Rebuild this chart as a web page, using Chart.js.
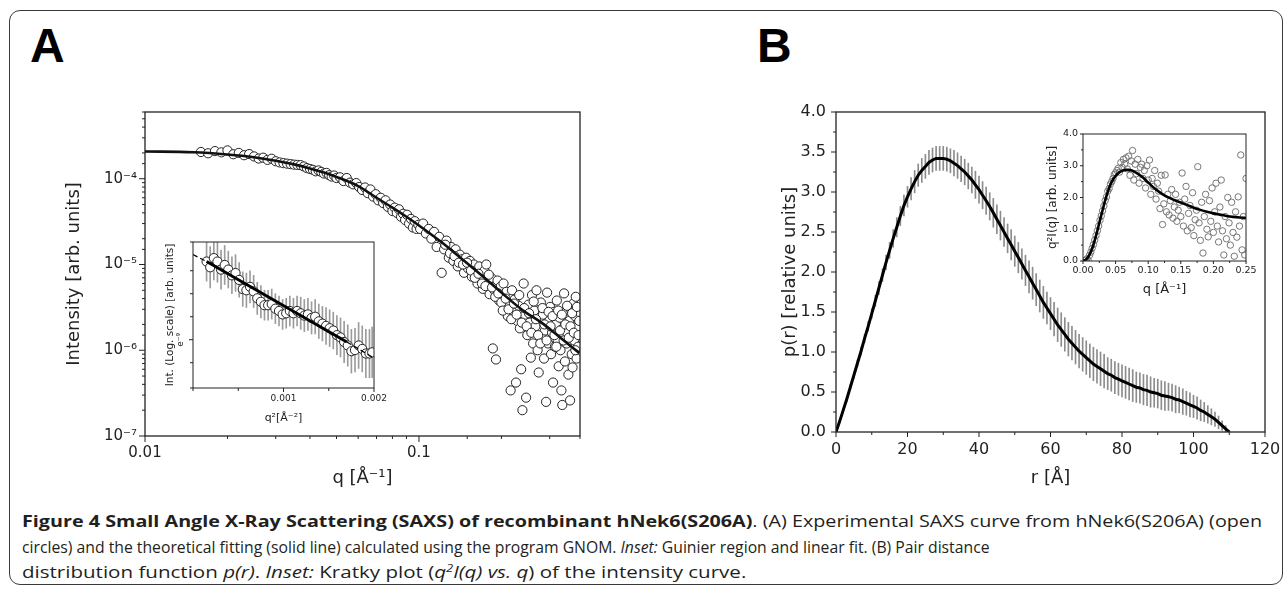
<!DOCTYPE html>
<html>
<head>
<meta charset="utf-8">
<script src="https://cdn.jsdelivr.net/npm/chart.js@4.4.1/dist/chart.umd.min.js"></script>
<style>
html, body { margin: 0; padding: 0; background: #fff; }
body { width: 1285px; height: 592px; position: relative; overflow: hidden; }
#frame { position: absolute; left: 9px; top: 10px; width: 1274px; height: 575px; border: 1.5px solid #3a3a3a; border-radius: 11px; box-sizing: border-box; }
.panel { position: absolute; font: bold 48px "Liberation Sans", Arial, sans-serif; line-height: 48px; color: #000; }
canvas { position: absolute; }
.cap { position: absolute; left: 22px; white-space: nowrap; font: 16px "Open Sans", sans-serif; line-height: 20px; color: #231f20; transform-origin: 0 50%; }
</style>
</head>
<body>
<div id="frame"></div>
<div class="panel" style="left:30px;top:22px">A</div>
<div class="panel" style="left:757px;top:22px">B</div>

<canvas id="cA" width="570" height="400" style="left:30px;top:90px"></canvas>
<canvas id="cAin" width="240" height="200" style="left:155px;top:232px"></canvas>
<canvas id="cB" width="525" height="400" style="left:760px;top:95px"></canvas>
<canvas id="cBin" width="225" height="185" style="left:1040px;top:122px"></canvas>

<div class="cap" id="c1" style="top:511px"><b>Figure 4 Small Angle X-Ray Scattering (SAXS) of recombinant hNek6(S206A)</b>. (A) Experimental SAXS curve from hNek6(S206A) (open</div>
<div class="cap" id="c2" style="top:537px">circles) and the theoretical fitting (solid line) calculated using the program GNOM. <i>Inset:</i> Guinier region and linear fit. (B) Pair distance</div>
<div class="cap" id="c3" style="top:562px">distribution function <i>p(r)</i>. <i>Inset:</i> Kratky plot (<i>q<sup style="font-size:10px;line-height:0">2</sup>I(q) vs. q</i>) of the intensity curve.</div>

<script>
// ---- (A) SAXS curve: experimental points [q, I] and GNOM fit ----
const expPoints = [
  [0.0160,2.05e-4],[0.0170,1.98e-4],[0.0180,2.10e-4],[0.0190,2.03e-4],[0.0200,2.14e-4],[0.0210,1.93e-4],[0.0220,2.00e-4],[0.0230,1.88e-4],[0.0240,1.94e-4],[0.0250,1.82e-4],
  [0.0260,1.72e-4],[0.0270,1.76e-4],[0.0280,1.66e-4],[0.0290,1.71e-4],[0.0300,1.60e-4],[0.0310,1.55e-4],[0.0320,1.52e-4],[0.0330,1.50e-4],[0.0340,1.48e-4],[0.0350,1.46e-4],
  [0.0360,1.45e-4],[0.0370,1.44e-4],[0.0380,1.39e-4],[0.0390,1.33e-4],[0.0400,1.30e-4],[0.0410,1.27e-4],[0.0420,1.22e-4],[0.0430,1.25e-4],[0.0440,1.20e-4],[0.0450,1.15e-4],
  [0.0460,1.17e-4],[0.0470,1.10e-4],[0.0480,1.06e-4],[0.0490,1.09e-4],[0.0500,1.02e-4],
  [0.0515,1.04e-4],[0.0530,9.4e-5],[0.0545,1.02e-4],[0.0560,9.0e-5],[0.0575,8.6e-5],[0.0590,8.9e-5],[0.0605,8.0e-5],[0.0620,7.4e-5],[0.0635,7.9e-5],[0.0650,6.8e-5],
  [0.0665,7.5e-5],[0.0680,6.2e-5],[0.0695,6.6e-5],[0.0710,5.6e-5],[0.0725,6.0e-5],[0.0740,5.2e-5],[0.0755,5.6e-5],[0.0770,4.7e-5],[0.0785,5.0e-5],[0.0800,4.2e-5],
  [0.0815,4.6e-5],[0.0830,4.0e-5],[0.0845,4.4e-5],[0.0860,3.6e-5],[0.0875,3.9e-5],[0.0890,3.3e-5],[0.0905,3.8e-5],[0.0920,3.0e-5],[0.0935,3.4e-5],[0.0950,2.7e-5],
  [0.0965,3.2e-5],[0.0980,2.6e-5],[0.0995,2.9e-5],
  [0.1010,2.6e-5],[0.1035,3.0e-5],[0.1060,2.3e-5],[0.1085,2.6e-5],[0.1110,2.0e-5],[0.1135,2.4e-5],[0.1160,1.6e-5],[0.1185,2.1e-5],[0.1210,8.0e-6],[0.1235,1.5e-5],
  [0.1260,1.9e-5],[0.1285,1.2e-5],[0.1310,1.6e-5],[0.1335,1.1e-5],[0.1360,1.5e-5],[0.1385,9.5e-6],[0.1410,1.3e-5],[0.1435,1.15e-5],[0.1460,8.0e-6],[0.1485,1.2e-5],
  [0.1510,9.0e-6],[0.1535,1.1e-5],[0.1560,7.2e-6],[0.1585,1.0e-5],[0.1610,8.0e-6],[0.1635,6.0e-6],[0.1660,9.5e-6],[0.1685,6.8e-6],[0.1710,5.2e-6],[0.1735,8.5e-6],
  [0.1760,1.0e-5],[0.1785,6.0e-6],[0.1810,4.5e-6],[0.1835,7.0e-6],[0.1860,1.05e-6],[0.1885,5.0e-6],[0.1910,7.8e-7],[0.1935,6.5e-6],[0.1960,3.8e-6],[0.1985,5.5e-6],
  [0.2010,4.2e-6],[0.2035,6.0e-6],[0.2060,3.2e-6],[0.2085,4.8e-6],[0.2110,2.5e-6],[0.2135,3.5e-6],[0.2160,3.4e-7],[0.2185,5.0e-6],[0.2210,2.8e-6],[0.2235,3.9e-6],
  [0.2260,4.2e-7],[0.2285,2.2e-6],[0.2310,3.3e-6],[0.2335,1.8e-6],[0.2360,6.0e-7],[0.2385,2.0e-7],[0.2410,6.0e-6],[0.2435,2.6e-6],[0.2460,2.8e-7],[0.2485,1.5e-6],
  [0.2510,3.4e-6],[0.2535,2.1e-6],[0.2560,8.2e-7],[0.2585,4.4e-6],[0.2610,1.2e-6],[0.2635,2.9e-6],[0.2660,1.9e-6],[0.2685,5.0e-6],[0.2710,1.0e-6],[0.2735,5.5e-7],
  [0.2760,2.4e-6],[0.2785,3.6e-6],[0.2810,1.4e-6],[0.2835,2.6e-6],[0.2860,8.0e-7],[0.2885,1.7e-6],[0.2910,2.5e-7],[0.2935,4.7e-6],[0.2960,1.2e-6],[0.2985,2.2e-6],
  [0.3010,3.2e-6],[0.3035,9.0e-7],[0.3060,1.6e-6],[0.3085,4.2e-7],[0.3110,2.8e-6],[0.3135,1.1e-6],[0.3160,2.0e-6],[0.3185,3.8e-6],[0.3210,1.3e-6],[0.3235,6.5e-7],
  [0.3260,2.4e-6],[0.3285,1.0e-6],[0.3310,3.4e-7],[0.3335,2.3e-7],[0.3360,1.8e-6],[0.3385,4.6e-6],[0.3410,7.4e-7],[0.3435,2.9e-6],[0.3460,1.2e-6],[0.3485,1.6e-6],
  [0.3510,5.2e-7],[0.3535,2.2e-6],[0.3560,2.6e-7],[0.3585,3.0e-6],[0.3610,9.0e-7],[0.3635,6.3e-7],[0.3660,3.5e-6],[0.3685,1.3e-6],[0.3710,2.5e-6],[0.3735,4.2e-6],
  [0.3760,8.0e-7],[0.3785,1.9e-6],[0.3810,1.1e-6],[0.3835,2.8e-6],
  [0.1248,1.7e-5],[0.1298,1.35e-5],[0.1348,1.25e-5],[0.1398,1.05e-5],[0.1448,1.0e-5],[0.1498,1.05e-5],[0.1548,8.5e-6],[0.1598,7.0e-6],
  [0.1648,7.8e-6],[0.1698,6.0e-6],[0.1748,5.6e-6],[0.1798,7.6e-6],[0.1848,5.4e-6],[0.1898,4.2e-6],[0.1948,4.6e-6],[0.1998,3.6e-6],
  [0.2022,2.9e-6],[0.2072,4.0e-6],[0.2122,3.0e-6],[0.2172,2.3e-6],[0.2222,3.5e-6],[0.2272,2.6e-6],[0.2322,4.4e-6],[0.2372,2.1e-6],
  [0.2422,3.1e-6],[0.2472,1.9e-6],[0.2522,2.7e-6],[0.2572,1.6e-6],[0.2622,3.7e-6],[0.2672,2.3e-6],[0.2722,1.5e-6],[0.2772,1.2e-6],
  [0.2822,3.1e-6],[0.2872,2.0e-6],[0.2922,1.3e-6],[0.2972,2.8e-6],[0.3022,1.9e-6],[0.3072,2.5e-6],[0.3122,1.5e-6],[0.3172,1.1e-6],
  [0.3222,2.9e-6],[0.3272,1.7e-6],[0.3322,2.6e-6],[0.3372,1.3e-6],[0.3422,2.0e-6],[0.3472,3.3e-6],[0.3522,1.4e-6],[0.3572,1.9e-6],
  [0.3622,2.7e-6],[0.3672,1.6e-6],[0.3722,1.0e-6],[0.3772,3.2e-6],[0.3822,1.5e-6],[0.3845,2.2e-6]
];
const fitQ = [0.010, 0.015, 0.020, 0.025, 0.030, 0.035, 0.040, 0.045, 0.050, 0.060, 0.070, 0.080, 0.090, 0.100, 0.120, 0.140, 0.170, 0.200, 0.240, 0.280, 0.320, 0.360, 0.385];
const fitI = [2.08e-4, 2.04e-4, 1.92e-4, 1.78e-4, 1.62e-4, 1.47e-4, 1.32e-4, 1.18e-4, 1.05e-4, 8.2e-5, 6.0e-5, 4.6e-5, 3.6e-5, 2.85e-5, 1.85e-5, 1.24e-5, 7.4e-6, 4.7e-6, 2.9e-6, 2.1e-6, 1.5e-6, 1.1e-6, 9.3e-7];

// ---- (A) inset: Guinier region, ln I vs q^2 ----
const guinierQ2 = [0.00015,0.00019,0.00023,0.00027,0.00031,0.00035,0.00039,0.00043,0.00047,0.00051,0.00055,0.00059,0.00063,0.00067,0.00071,0.00075,
  0.00079,0.00083,0.00087,0.00091,0.00095,0.00099,0.00103,0.00107,0.00111,0.00115,0.00119,0.00123,0.00127,0.00131,0.00135,0.00139,
  0.00143,0.00147,0.00151,0.00155,0.00159,0.00163,0.00167,0.00171,0.00175,0.00179,0.00183,0.00187,0.00191,0.00195,0.00198];
const guinierLnI = [-8.32,-8.37,-8.29,-8.32,-8.39,-8.35,-8.39,-8.44,-8.42,-8.48,-8.56,-8.57,-8.54,-8.58,-8.64,-8.67,
  -8.70,-8.70,-8.69,-8.73,-8.75,-8.78,-8.77,-8.75,-8.77,-8.75,-8.77,-8.79,-8.78,-8.81,-8.80,-8.84,
  -8.86,-8.88,-8.90,-8.92,-8.96,-8.98,-9.02,-9.05,-9.10,-9.09,-9.05,-9.08,-9.12,-9.12,-9.11];
const guinierErr = [0.17,0.18,0.19,0.18,0.17,0.17,0.16,0.16,0.16,0.15,0.15,0.15,0.14,0.14,0.14,0.14,
  0.13,0.13,0.13,0.13,0.13,0.13,0.13,0.13,0.13,0.13,0.14,0.14,0.14,0.14,0.15,0.15,
  0.15,0.16,0.16,0.16,0.17,0.17,0.18,0.18,0.19,0.19,0.20,0.20,0.21,0.21,0.22];
const guinierFitQ2 = [0.00015, 0.0017];
const guinierFitLnI = [-8.32, -9.02];
const guinierExtQ2 = [0.0, 0.00015, null, 0.0017, 0.002];
const guinierExtLnI = [-8.26, -8.32, null, -9.02, -9.16];

// ---- (B) pair distance distribution p(r), one value per Å ----
const rGrid = Array.from({ length: 111 }, (_, i) => i);
const pr = [
  0.00,0.13,0.27,0.41,0.56,0.71,0.86,1.01,1.17,1.32,
  1.48,1.64,1.80,1.96,2.12,2.27,2.42,2.56,2.70,2.83,
  2.94,3.04,3.13,3.21,3.27,3.32,3.37,3.40,3.42,3.42,
  3.42,3.41,3.39,3.36,3.33,3.29,3.25,3.20,3.15,3.09,
  3.03,2.96,2.89,2.82,2.74,2.66,2.58,2.50,2.42,2.34,
  2.26,2.18,2.10,2.02,1.94,1.86,1.78,1.70,1.62,1.55,
  1.48,1.41,1.34,1.28,1.22,1.16,1.11,1.06,1.01,0.97,
  0.93,0.89,0.85,0.82,0.79,0.76,0.73,0.71,0.68,0.66,
  0.64,0.62,0.60,0.58,0.56,0.55,0.53,0.52,0.50,0.49,
  0.48,0.46,0.45,0.44,0.43,0.41,0.40,0.38,0.36,0.34,
  0.32,0.30,0.27,0.25,0.22,0.19,0.16,0.12,0.08,0.04,0.00
];
const prErr = [
  0.01,0.02,0.02,0.03,0.03,0.04,0.04,0.05,0.05,0.06,0.06,
  0.07,0.08,0.08,0.09,0.10,0.11,0.12,0.12,0.13,0.13,
  0.14,0.14,0.14,0.15,0.15,0.15,0.15,0.15,0.15,0.15,
  0.15,0.15,0.16,0.16,0.16,0.16,0.16,0.16,0.17,0.17,
  0.17,0.17,0.17,0.18,0.18,0.18,0.18,0.18,0.19,0.19,
  0.19,0.19,0.19,0.20,0.20,0.20,0.20,0.20,0.20,0.20,
  0.21,0.21,0.21,0.21,0.21,0.21,0.21,0.21,0.21,0.21,
  0.21,0.21,0.21,0.21,0.21,0.20,0.20,0.20,0.20,0.20,
  0.20,0.20,0.20,0.19,0.19,0.19,0.19,0.19,0.18,0.18,
  0.18,0.18,0.17,0.17,0.17,0.16,0.16,0.15,0.15,0.14,
  0.14,0.13,0.12,0.11,0.10,0.09,0.08,0.06,0.04,0.02
];

// ---- (B) inset: Kratky plot q^2 I(q) ----
const kratkyPoints = [
  [0.002,0.01],[0.004,0.03],[0.006,0.07],[0.008,0.02],[0.010,0.18],[0.012,0.28],[0.014,0.40],[0.016,0.52],[0.018,0.66],[0.020,0.80],
  [0.022,0.95],[0.024,1.10],[0.026,1.28],[0.028,1.42],[0.030,1.58],[0.032,1.73],[0.034,1.90],[0.036,2.02],[0.038,2.20],[0.040,2.28],
  [0.042,2.42],[0.044,2.50],[0.046,2.60],[0.048,2.72],[0.050,2.78],[0.052,2.85],[0.054,2.92],[0.056,2.80],[0.058,3.10],[0.060,2.95],
  [0.062,3.20],[0.064,3.05],[0.066,3.25],[0.068,2.90],[0.070,3.30],[0.072,2.70],[0.074,3.15],[0.076,3.48],[0.078,2.55],[0.080,3.05],
  [0.082,2.75],[0.084,3.20],[0.086,2.45],[0.088,2.95],[0.090,3.05],[0.092,2.60],[0.094,2.85],[0.096,2.30],[0.098,3.00],[0.100,2.55],
  [0.102,3.18],[0.104,2.10],[0.106,2.60],[0.108,2.35],[0.110,2.85],[0.112,1.95],[0.114,2.45],[0.116,2.20],[0.118,1.65],[0.120,2.70],
  [0.122,1.15],[0.124,1.80],[0.126,2.71],[0.128,1.55],[0.130,2.10],[0.132,1.45],[0.134,1.90],[0.136,2.25],[0.138,1.35],[0.140,1.70],
  [0.142,2.10],[0.144,1.25],[0.146,1.60],[0.148,1.85],[0.150,1.40],[0.152,2.77],[0.154,1.10],[0.156,1.95],[0.158,2.35],[0.160,0.95],
  [0.162,1.50],[0.164,1.75],[0.166,1.05],[0.168,2.15],[0.170,0.80],[0.172,1.30],[0.174,1.60],[0.176,2.97],[0.178,1.20],[0.180,0.65],
  [0.182,1.85],[0.184,0.25],[0.186,1.40],[0.188,2.10],[0.190,1.00],[0.192,0.76],[0.194,1.90],[0.196,1.25],[0.198,2.30],[0.200,0.90],
  [0.202,1.55],[0.204,2.45],[0.206,1.10],[0.208,0.60],[0.210,1.70],[0.212,2.55],[0.214,0.95],[0.216,0.19],[0.218,1.40],[0.220,0.70],
  [0.222,2.00],[0.224,1.20],[0.226,0.50],[0.228,1.85],[0.230,0.90],[0.232,0.15],[0.234,1.55],[0.236,0.75],[0.238,2.02],[0.240,1.10],
  [0.242,3.34],[0.244,0.35],[0.246,1.40],[0.248,0.19],[0.250,2.60]
];
const kratkyFitQ = [0, 0.005, 0.01, 0.015, 0.02, 0.025, 0.03, 0.035, 0.04, 0.045, 0.05, 0.055, 0.06, 0.065, 0.07, 0.075, 0.08,
  0.09, 0.10, 0.11, 0.12, 0.13, 0.14, 0.15, 0.16, 0.17, 0.18, 0.19, 0.20, 0.21, 0.22, 0.23, 0.24, 0.25];
const kratkyFitV = [0, 0.05, 0.2, 0.45, 0.8, 1.2, 1.6, 1.98, 2.3, 2.53, 2.68, 2.78, 2.84, 2.87, 2.87, 2.85, 2.8,
  2.66, 2.47, 2.28, 2.13, 2.01, 1.92, 1.84, 1.76, 1.68, 1.61, 1.55, 1.5, 1.46, 1.42, 1.39, 1.37, 1.36];

// ---- helpers ----
Chart.defaults.font.family = '"DejaVu Sans", Verdana, sans-serif';
Chart.defaults.color = '#222';

const SUP = { '-': '⁻', '0': '⁰', '1': '¹', '2': '²', '3': '³', '4': '⁴', '5': '⁵', '6': '⁶', '7': '⁷', '8': '⁸', '9': '⁹' };
const sup = n => String(n).split('').map(c => SUP[c]).join('');
const near = (a, b) => Math.abs(a - b) < 1e-9;
const xy = (xs, ys) => xs.map((x, i) => ({ x: x, y: ys[i] }));

// box around the plot area plus outward tick marks (long for labelled ticks)
function axisBox(o) {
  return {
    id: 'axisBox',
    beforeDraw(chart) {
      if (!o.fill) return;
      const a = chart.chartArea, ctx = chart.ctx;
      ctx.save();
      ctx.fillStyle = o.fill;
      ctx.fillRect(a.left, a.top, a.width, a.height);
      ctx.restore();
    },
    afterDraw(chart) {
      const a = chart.chartArea, ctx = chart.ctx;
      const xs = chart.scales.x, ys = chart.scales.y;
      ctx.save();
      ctx.strokeStyle = '#222';
      ctx.lineWidth = o.lw;
      ctx.strokeRect(a.left, a.top, a.width, a.height);
      ctx.beginPath();
      xs.ticks.forEach(t => {
        const p = xs.getPixelForValue(t.value);
        ctx.moveTo(p, a.bottom);
        ctx.lineTo(p, a.bottom + (t.label ? o.major : o.minor));
      });
      ys.ticks.forEach(t => {
        const p = ys.getPixelForValue(t.value);
        const big = o.majorY ? o.majorY(t.value) : t.label;
        ctx.moveTo(a.left, p);
        ctx.lineTo(a.left - (big ? o.major : o.minor), p);
      });
      ctx.lineWidth = 1;
      ctx.stroke();
      if (o.extra) o.extra(chart, ctx);
      ctx.restore();
    }
  };
}

function baseOptions(pad) {
  return {
    responsive: false,
    animation: false,
    events: [],
    layout: { padding: pad },
    plugins: { legend: { display: false }, tooltip: { enabled: false } },
  };
}

function axis(extra) {
  return Object.assign({
    offset: false,
    grid: { display: false, drawTicks: true },
    border: { display: false },
  }, extra);
}

// ---- (A) main chart ----
new Chart(document.getElementById('cA'), {
  type: 'scatter',
  data: {
    datasets: [
      { type: 'line', data: xy(fitQ, fitI), borderColor: '#111', borderWidth: 2.6, pointRadius: 0, cubicInterpolationMode: 'monotone', order: 0 },
      { data: expPoints.map(p => ({ x: p[0], y: p[1] })), pointRadius: 4.6, borderWidth: 1, borderColor: '#222', backgroundColor: '#fff', order: 1 }
    ]
  },
  options: Object.assign(baseOptions({ left: 0, top: 22, right: 20, bottom: 0 }), {
    scales: {
      x: axis({
        type: 'logarithmic', min: 0.01, max: 0.387,
        grid: { display: false, drawTicks: true, tickLength: 6 },
        ticks: { autoSkip: false, maxRotation: 0, padding: 2, font: { size: 15 },
          callback: v => near(v, 0.01) ? '0.01' : (near(v, 0.1) ? '0.1' : '') },
        title: { display: true, text: 'q [Å⁻¹]', font: { size: 18 }, padding: { top: 0, bottom: 1 } },
        afterFit: s => { s.height = 54; }
      }),
      y: axis({
        type: 'logarithmic', min: 1e-7, max: 6e-4,
        grid: { display: false, drawTicks: true, tickLength: 6 },
        ticks: { autoSkip: false, padding: 2, font: { size: 15 },
          callback: v => { const e = Math.log10(v); return Math.abs(e - Math.round(e)) < 1e-6 ? '10' + sup(Math.round(e)) : ''; } },
        title: { display: true, text: 'Intensity [arb. units]', font: { size: 18 }, padding: { top: 34, bottom: 0 } },
        afterFit: s => { s.width = 115; }
      })
    }
  }),
  plugins: [axisBox({ lw: 1.3, major: 6, minor: 3 })]
});

// ---- (A) inset: Guinier plot ----
new Chart(document.getElementById('cAin'), {
  type: 'scatter',
  data: {
    datasets: [
      { type: 'line', data: xy(guinierFitQ2, guinierFitLnI), borderColor: '#000', borderWidth: 3, pointRadius: 0, order: 0 },
      { type: 'line', data: xy(guinierExtQ2, guinierExtLnI), borderColor: '#000', borderWidth: 1.3, borderDash: [5, 3], pointRadius: 0, spanGaps: false, order: 0 },
      { data: xy(guinierQ2, guinierLnI), pointRadius: 4.6, borderWidth: 1, borderColor: '#222', backgroundColor: '#fff', order: 1 },
      { type: 'bar', data: guinierQ2.map((q, i) => ({ x: q, y: [guinierLnI[i] - guinierErr[i], guinierLnI[i] + guinierErr[i]] })),
        backgroundColor: '#9c9c9c', barThickness: 1, grouped: false, order: 2 }
    ]
  },
  options: Object.assign(baseOptions({ left: 0, top: 10, right: 21, bottom: 0 }), {
    scales: {
      x: axis({
        type: 'linear', min: 0, max: 0.002,
        grid: { display: false, drawTicks: true, tickLength: 3 },
        ticks: { stepSize: 0.0005, autoSkip: false, maxRotation: 0, padding: 2, font: { size: 9 },
          callback: v => near(v, 0.001) ? '0.001' : (near(v, 0.002) ? '0.002' : '') },
        title: { display: true, text: 'q²[Å⁻²]', font: { size: 11 }, padding: { top: 0, bottom: 7.4 } },
        afterFit: s => { s.height = 44; }
      }),
      y: axis({
        type: 'linear', min: -9.42, max: -8.15,
        grid: { display: false, drawTicks: true, tickLength: 3 },
        ticks: { stepSize: 0.2, autoSkip: false, padding: 0, callback: () => '' },
        title: { display: true, text: 'Int. (Log. scale) [arb. units]', font: { size: 10.5 }, padding: { top: 8.7, bottom: 0 } },
        afterFit: s => { s.width = 38; }
      })
    }
  }),
  plugins: [axisBox({
    fill: '#fff', lw: 1, major: 4, minor: 3,
    majorY: v => near(v, -9),
    extra: (chart, ctx) => {
      // tick label e^-9, written upright along the axis as in the original
      ctx.translate(26, chart.scales.y.getPixelForValue(-9));
      ctx.rotate(-Math.PI / 2);
      ctx.font = '9px "DejaVu Sans"';
      ctx.fillStyle = '#222';
      ctx.textAlign = 'center';
      ctx.textBaseline = 'middle';
      ctx.fillText('e⁻⁹', 0, 0);
    }
  })]
});

// ---- (B) main chart: p(r) with error bars ----
new Chart(document.getElementById('cB'), {
  type: 'scatter',
  data: {
    datasets: [
      { type: 'line', data: xy(rGrid, pr), borderColor: '#000', borderWidth: 3, pointRadius: 0, order: 0 },
      { type: 'bar', data: rGrid.map((r, i) => ({ x: r, y: [pr[i] - prErr[i], pr[i] + prErr[i]] })),
        backgroundColor: '#8c8c8c', barThickness: 1, grouped: false, order: 1 }
    ]
  },
  options: Object.assign(baseOptions({ left: 0, top: 17, right: 20, bottom: 0 }), {
    scales: {
      x: axis({
        type: 'linear', min: 0, max: 120,
        grid: { display: false, drawTicks: true, tickLength: 5 },
        ticks: { stepSize: 10, autoSkip: false, maxRotation: 0, padding: 3, font: { size: 16 },
          callback: v => (Math.round(v) % 20 === 0 ? String(Math.round(v)) : '') },
        title: { display: true, text: 'r [Å]', font: { size: 18 }, padding: { top: 0, bottom: 6.2 } },
        afterFit: s => { s.height = 63; }
      }),
      y: axis({
        type: 'linear', min: 0, max: 4,
        grid: { display: false, drawTicks: true, tickLength: 5 },
        ticks: { stepSize: 0.25, autoSkip: false, padding: 5, font: { size: 16 },
          callback: v => (Math.round(v * 100) % 50 === 0 ? v.toFixed(1) : '') },
        title: { display: true, text: 'p(r) [relative units]', font: { size: 18 }, padding: { top: 19.2, bottom: 0 } },
        afterFit: s => { s.width = 76; }
      })
    }
  }),
  plugins: [axisBox({ lw: 1.3, major: 5, minor: 3 })]
});

// ---- (B) inset: Kratky plot ----
new Chart(document.getElementById('cBin'), {
  type: 'scatter',
  data: {
    datasets: [
      { type: 'line', data: xy(kratkyFitQ, kratkyFitV), borderColor: '#000', borderWidth: 2.6, pointRadius: 0, cubicInterpolationMode: 'monotone', order: 0 },
      { data: kratkyPoints.map(p => ({ x: p[0], y: p[1] })), pointRadius: 3.2, borderWidth: 1, borderColor: '#777', backgroundColor: 'rgba(0,0,0,0)', order: 1 }
    ]
  },
  options: Object.assign(baseOptions({ left: 0, top: 12, right: 19, bottom: 0 }), {
    scales: {
      x: axis({
        type: 'linear', min: 0, max: 0.25,
        grid: { display: false, drawTicks: true, tickLength: 3 },
        ticks: { stepSize: 0.025, autoSkip: false, maxRotation: 0, padding: 1, font: { size: 9.5 },
          callback: v => (Math.round(v * 1000) % 50 === 0 ? v.toFixed(2) : '') },
        title: { display: true, text: 'q [Å⁻¹]', font: { size: 13 }, padding: { top: 0, bottom: 9.2 } },
        afterFit: s => { s.height = 46; }
      }),
      y: axis({
        type: 'linear', min: 0, max: 4,
        grid: { display: false, drawTicks: true, tickLength: 3 },
        ticks: { stepSize: 0.5, autoSkip: false, padding: 2, font: { size: 9.5 },
          callback: v => (Math.round(v * 10) % 10 === 0 ? v.toFixed(1) : '') },
        title: { display: true, text: 'q²I(q) [arb. units]', font: { size: 12 }, padding: { top: 5.8, bottom: 0 } },
        afterFit: s => { s.width = 43; }
      })
    }
  }),
  plugins: [axisBox({ fill: '#fff', lw: 1, major: 3, minor: 2 })]
});

// squeeze each caption line to the width it has in the original
[['c1', 1262], ['c2', 990], ['c3', 746]].forEach(([id, right]) => {
  const el = document.getElementById(id);
  el.style.transform = 'scaleX(' + ((right - 22) / el.offsetWidth) + ')';
});
</script>
</body>
</html>
